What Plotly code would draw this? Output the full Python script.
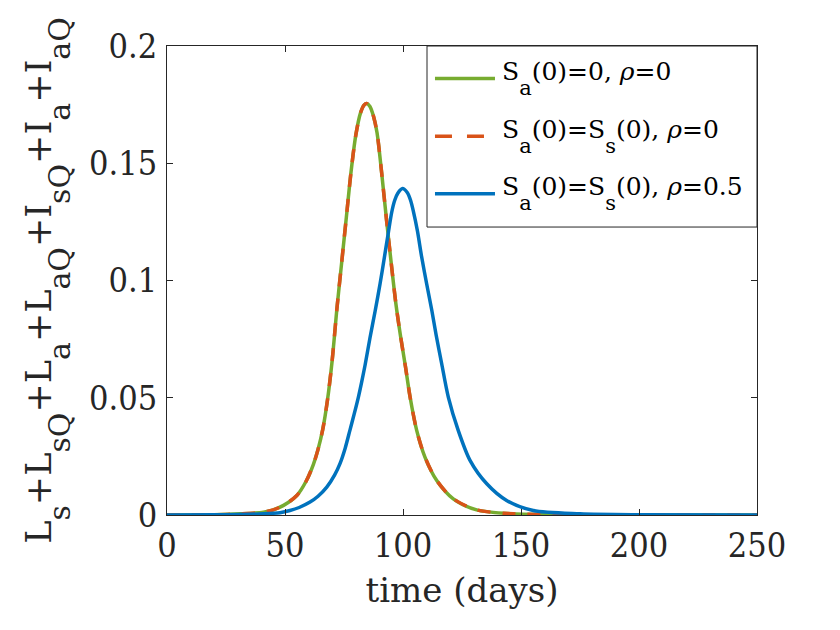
import plotly.graph_objects as go

# ---- data ----
days_a = [0, 10, 20, 31, 40.8, 45, 49.4, 55, 59, 62, 64, 66, 68, 70, 72, 74, 76, 78,
          80, 82, 83.5, 84.6, 86, 87.5, 89, 91, 93, 95, 97, 99, 101, 103, 105.8,
          109.3, 114.3, 121.3, 131.2, 146.7, 168, 200, 250]
vals_a = [0.0, 0.0, 0.0001, 0.0005, 0.0012, 0.0022, 0.0041, 0.0083, 0.0145, 0.0215,
          0.0280, 0.0365, 0.0490, 0.0660, 0.0880, 0.1075, 0.1270, 0.1465, 0.1620,
          0.1715, 0.1748, 0.1755, 0.1742, 0.1700, 0.1630, 0.1455, 0.1260, 0.1075,
          0.0900, 0.0760, 0.0635, 0.0503, 0.0361, 0.0247, 0.0147, 0.0069, 0.0022,
          0.0005, 0.0001, 0.0, 0.0]

days_b = [0, 20, 30, 40.8, 47.9, 52.1, 56, 60.6, 64, 67.7, 71, 73.3, 75.5, 77.5, 79.3,
          81.1, 82.5, 84, 86, 88.2, 90.3, 92.1, 93.8, 95.2, 96.5, 97.8, 99.8, 101.8,
          103.2, 104.4, 106.1, 107.9, 110, 112.2, 114, 116.4, 119.2, 123.4, 128.4,
          135.5, 143.9, 155.2, 175, 200, 250]
vals_b = [0.0, 0.0001, 0.0002, 0.0005, 0.0010, 0.0019, 0.0032, 0.0055, 0.0080, 0.0119,
          0.0170, 0.0219, 0.0285, 0.0361, 0.0430, 0.0503, 0.0568, 0.0643, 0.0755,
          0.0870, 0.0987, 0.1098, 0.1205, 0.1290, 0.1342, 0.1372, 0.1392, 0.1375,
          0.1342, 0.1295, 0.1212, 0.1101, 0.0987, 0.0873, 0.0770, 0.0645, 0.0503,
          0.0361, 0.0233, 0.0133, 0.0062, 0.0019, 0.0005, 0.0001, 0.0]

x_ticks = [0, 50, 100, 150, 200, 250]
y_ticks = [0, 0.05, 0.1, 0.15, 0.2]
y_tick_text = ["0", "0.05", "0.1", "0.15", "0.2"]

TITLE_FONT = "DejaVu Serif"
TICK_FONT = "DejaVu Serif Condensed, Liberation Serif"
AX = "#262626"
GREEN, ORANGE, BLUE = "#77AC30", "#D95319", "#0072BD"
LW = 3.5
DASH = "13px,12px"
LEGEND_DASH = "17px,15px"


def main(t, px):
    return '<span style="font-size:%dpx">%s</span>' % (px, t)


def sub(t, px):
    # doubly nested <sub> gives the deep, below-baseline subscripts of the original
    return '<sub><sub><span style="font-size:%dpx">%s</span></sub></sub>' % (px, t)


Y_MAIN, Y_SUB = 35, 30
y_parts = [("L", "s"), ("+L", "sQ"), ("+L", "a"), ("+L", "aQ"),
           ("+I", "sQ"), ("+I", "a"), ("+I", "aQ")]
y_title = "".join(main(m, Y_MAIN) + sub(s, Y_SUB) for m, s in y_parts)

L_MAIN, L_SUB = 25, 21
names = [
    main("S", L_MAIN) + sub("a", L_SUB) + main("(0)=0, <i>ρ</i>=0", L_MAIN),
    main("S", L_MAIN) + sub("a", L_SUB) + main("(0)=S", L_MAIN) + sub("s", L_SUB)
    + main("(0), <i>ρ</i>=0", L_MAIN),
    main("S", L_MAIN) + sub("a", L_SUB) + main("(0)=S", L_MAIN) + sub("s", L_SUB)
    + main("(0), <i>ρ</i>=0.5", L_MAIN),
]
colors = [GREEN, ORANGE, BLUE]
dashes = ["solid", LEGEND_DASH, "solid"]

fig = go.Figure()
fig.add_trace(go.Scatter(x=days_a, y=vals_a, mode="lines", name="Sa(0)=0, rho=0",
                         line=dict(color=GREEN, width=LW, shape="spline", smoothing=0.8)))
fig.add_trace(go.Scatter(x=days_a, y=vals_a, mode="lines", name="Sa(0)=Ss(0), rho=0",
                         line=dict(color=ORANGE, width=LW, dash=DASH,
                                   shape="spline", smoothing=0.8)))
fig.add_trace(go.Scatter(x=days_b, y=vals_b, mode="lines", name="Sa(0)=Ss(0), rho=0.5",
                         line=dict(color=BLUE, width=LW, shape="spline", smoothing=0.8)))

axis_common = dict(showline=True, linecolor=AX, linewidth=1, mirror="ticks",
                   ticks="inside", ticklen=6, tickcolor=AX, showgrid=False,
                   zeroline=False, tickfont=dict(family=TICK_FONT, size=34, color=AX))

fig.update_xaxes(range=[0, 250], tickvals=x_ticks, ticklabelstandoff=0,
                 title=dict(text="time (days)",
                            font=dict(family=TITLE_FONT, size=34, color=AX), standoff=14),
                 **axis_common)
fig.update_yaxes(range=[0, 0.2], tickvals=y_ticks, ticktext=y_tick_text,
                 ticklabelstandoff=2,
                 title=dict(text=y_title,
                            font=dict(family=TITLE_FONT, size=54, color=AX), standoff=20),
                 **axis_common)

# ---- legend box drawn in plot-area (paper) coordinates ----
shapes = [dict(type="rect", xref="paper", yref="paper", x0=0.4407, x1=1.0,
               y0=0.614, y1=1.0, line=dict(color=AX, width=1), fillcolor="white",
               layer="above")]
annotations = []
rows_y = [0.9306, 0.8075, 0.6852]
for name, col, dsh, yy in zip(names, colors, dashes, rows_y):
    shapes.append(dict(type="line", xref="paper", yref="paper", x0=0.4542, x1=0.5559,
                       y0=yy, y1=yy, line=dict(color=col, width=LW, dash=dsh),
                       layer="above"))
    annotations.append(dict(xref="paper", yref="paper", x=0.5644, y=yy, text=name,
                            showarrow=False, xanchor="left", yanchor="middle",
                            yshift=0,
                            font=dict(family=TITLE_FONT, size=42, color="black")))

# margins offset by the page's 8 px body margin so the plot area lands at
# x 167-757, y 46-515 in the photographed window
fig.update_layout(
    width=840, height=630,
    margin=dict(l=159, r=91, t=38, b=123),
    paper_bgcolor="white", plot_bgcolor="white",
    showlegend=False,
    shapes=shapes, annotations=annotations,
)

fig.write_html("out.html")
